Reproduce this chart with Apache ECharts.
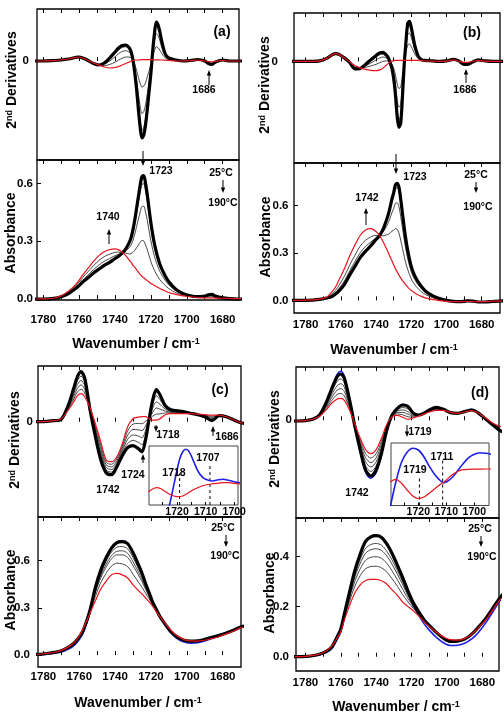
<!DOCTYPE html>
<html>
<head>
<meta charset="utf-8">
<title>FTIR 2nd derivative and absorbance spectra</title>
<script src="https://cdn.jsdelivr.net/npm/echarts@6.0.0/dist/echarts.min.js"></script>
<style>
  html, body { margin: 0; padding: 0; background: #fff; }
  #chart { width: 504px; height: 718px; }
</style>
</head>
<body>
<div id="chart"></div>
<script>
// ---------------- data ----------------
// panel (a)
const wnA = [1786,1780,1774,1770,1766,1762,1760,1758,1755,1752,1749,1746,1743,1740,1738,1736,1734,1732,1731,1730,1729,1728,1727,1726,1725,1724,1723,1722,1721,1720,1719,1718,1717,1716,1715,1714,1712,1710,1706,1702,1698,1694,1690,1688,1686,1684,1680,1676,1672,1668]
const derivA_25 = [0,0,0.5,1,2, 3.5,4,3,0.5,-2.5, -4,-2,3,9,13, 15.5,16,13,9,1, -12,-28,-48,-66,-77, -74,-64,-48,-30,-12, 10,28,39,36,29, 20,7,3,1,0, 0.5,1.5,0,-2.5,-3.5, -1,1,0,0,0]
const derivA_mid1 = [0,0,0.5,1,2, 3.5,4,3,0.5,-2.5, -4,-2.4,2,7.5,11.2, 13.6,14.2,11.6,8.1,1, -10.7,-25.1,-43.1,-59.3,-69.2, -66.5,-57.5,-43.1,-26.9,-10.7, 9.1,25.3,35.2,32.5,26.2, 18.1,6.4,2.8,0.9,0, 0.5,1.5,0,-2.3,-3.3, -0.9,1,0,0,0]
const derivA_mid2 = [0,0,0.5,1,2, 3.5,4,3,0.5,-2.3, -4,-3.2,-0.1,4.2,7.3, 9.5,10.3,8.7,6.2,0.8, -8,-19,-32.8,-45.2,-52.7, -50.7,-43.8,-32.7,-20.3,-7.9, 7.3,19.7,27.3,25.2,20.3, 14.1,5.1,2.2,0.7,0, 0.4,1.3,0,-1.9,-2.7, -0.8,0.8,0,0,0]
const derivA_mid3 = [0,0,0.5,1,2, 3.5,4,3,0.5,-2.2, -4,-4.6,-3.5,-1.1,0.9, 2.8,4,3.9,3.2,0.7, -3.6,-9.2,-16.2,-22.3,-26.1, -25.1,-21.6,-15.9,-9.7,-3.4, 4.3,10.6,14.4,13.3,10.8, 7.7,3,1.4,0.4,0, 0.4,1.2,0,-1.2,-1.9, -0.5,0.7,0,0,0]
const derivA_190 = [0,0,0.5,1,2, 3.5,4,3,0.5,-2, -4,-6,-7,-6.5,-5.5, -4,-2.5,-1,0,0.5, 1,1,1,1.2,1.3, 1.3,1.3,1.3,1.3,1.3, 1.3,1.2,1.2,1.1,1, 1,0.8,0.5,0,0, 0.3,1,0,-0.5,-1, -0.3,0.5,0,0,0]
const absA_25 = [0,0,0.003,0.012,0.028, 0.055,0.07,0.088,0.11,0.135, 0.155,0.175,0.19,0.21,0.222, 0.238,0.26,0.295,0.32,0.36, 0.41,0.47,0.53,0.59,0.635, 0.64,0.6,0.54,0.465,0.395, 0.335,0.285,0.245,0.21,0.18, 0.158,0.12,0.09,0.05,0.028, 0.017,0.012,0.015,0.022,0.024, 0.015,0.006,0.002,0,0]
const absA_mid1 = [0,0,0.003,0.012,0.029, 0.057,0.072,0.091,0.114,0.14, 0.161,0.181,0.195,0.214,0.225, 0.238,0.257,0.287,0.31,0.345, 0.39,0.445,0.499,0.553,0.594, 0.598,0.56,0.504,0.435,0.37, 0.314,0.268,0.231,0.198,0.17, 0.149,0.114,0.086,0.048,0.027, 0.017,0.012,0.014,0.021,0.023, 0.014,0.006,0.002,0,0]
const absA_mid2 = [0,0.001,0.003,0.014,0.032, 0.061,0.078,0.099,0.125,0.153, 0.176,0.196,0.21,0.225,0.232, 0.239,0.25,0.267,0.281,0.305, 0.337,0.375,0.413,0.451,0.48, 0.481,0.451,0.407,0.352,0.301, 0.257,0.221,0.191,0.165,0.143, 0.126,0.097,0.073,0.042,0.024, 0.016,0.011,0.012,0.017,0.019, 0.012,0.005,0.002,0.001,0.001]
const absA_mid3 = [0,0.001,0.004,0.015,0.036, 0.068,0.088,0.112,0.142,0.173, 0.2,0.22,0.233,0.242,0.243, 0.241,0.238,0.234,0.237,0.242, 0.253,0.266,0.28,0.294,0.304, 0.301,0.281,0.255,0.224,0.194, 0.169,0.147,0.13,0.114,0.1, 0.089,0.07,0.054,0.033,0.02, 0.014,0.009,0.009,0.012,0.012, 0.009,0.005,0.003,0.001,0.001]
const absA_190 = [0,0.001,0.004,0.017,0.04, 0.075,0.098,0.125,0.16,0.195, 0.225,0.245,0.257,0.26,0.255, 0.243,0.225,0.2,0.19,0.175, 0.165,0.152,0.14,0.128,0.118, 0.11,0.102,0.095,0.088,0.081, 0.075,0.07,0.065,0.06,0.055, 0.05,0.042,0.034,0.024,0.016, 0.012,0.008,0.006,0.006,0.006, 0.005,0.004,0.003,0.002,0.002]

// panel (b)
const wnB = [1788,1782,1776,1772,1768, 1765,1763,1761,1758,1755, 1752,1749,1746,1743,1740, 1738,1736,1734,1733,1732, 1731,1730,1729,1728,1727, 1726,1725,1724,1723,1722, 1721,1720,1719,1718,1716, 1714,1712,1708,1704,1700, 1696,1693,1690,1688,1685, 1682,1678,1674,1670,1666]
const derivB_25 = [0,0,0,0.5,3, 6.5,7.7,7,3.5,-1, -7.5,-7,-3,1.5,6, 8.5,9,6,3.5,-1, -7,-17,-33,-55,-66, -62,-35,-3,20,38, 40,34,25,16,5, 1.5,1,0.5,0,0.5, 2,0.5,-3,-3,-0.5, 1.5,0.5,0,0,0]
const derivB_mid1 = [0,0,0,0.5,3, 6.5,7.7,7,3.5,-0.9, -7.1,-6.9,-3.6,0.2,4.2, 6.5,7.1,4.9,2.8,-0.9, -6.1,-14.9,-28.9,-48.3,-58, -54.4,-30.7,-2.5,17.7,33.6, 35.3,30,22.1,14.2,4.5, 1.4,0.9,0.5,0,0.5, 1.9,0.4,-2.8,-2.8,-0.4, 1.4,0.5,0,0,0]
const derivB_mid2 = [0,0,0,0.5,3, 6.5,7.7,7,3.5,-0.9, -6.5,-6.9,-4.5,-1.7,1.4, 3.4,4.4,3.2,1.9,-0.9, -4.8,-11.7,-22.8,-38.2,-45.9, -43.1,-24.2,-1.8,14.3,26.9, 28.3,24.1,17.8,11.5,3.8, 1.3,0.9,0.4,0,0.4, 1.9,0.4,-2.4,-2.4,-0.4, 1.4,0.4,0,0,0]
const derivB_mid3 = [0,0,0,0.5,3, 6.5,7.7,7,3.5,-0.7, -5.5,-6.7,-5.9,-4.6,-2.9, -1.4,0,0.5,0.3,-0.7, -2.8,-6.7,-13.3,-22.5,-27.1, -25.5,-14.1,-0.7,9,16.5, 17.4,14.9,11.1,7.3,2.7, 1.1,0.7,0.4,0,0.4, 1.7,0.2,-1.8,-1.8,-0.2, 1.2,0.4,0,0,0]
const derivB_190 = [0,0,0,0.5,3, 6.5,7.7,7,3.5,-0.5, -4,-6.5,-8,-9,-9.3, -8.5,-6.5,-3.5,-2,-0.5, 0.3,0.8,1,1,1, 1,1,1,1,1, 1,1,1,1,1, 0.8,0.5,0.3,0,0.3, 1.5,0,-1,-1,0, 1,0.3,0,0,0]
const absB_25 = [0,0,0.002,0.006,0.015, 0.025,0.04,0.06,0.1,0.16, 0.215,0.27,0.31,0.345,0.385, 0.41,0.45,0.51,0.545,0.59, 0.64,0.68,0.73,0.74,0.715, 0.64,0.55,0.46,0.38,0.315, 0.26,0.215,0.18,0.155,0.115, 0.085,0.06,0.03,0.012,0, -0.006,-0.008,-0.006,-0.003,-0.005, -0.01,-0.01,-0.007,-0.004,-0.002]
const absB_mid1 = [0,0,0.002,0.006,0.015, 0.027,0.042,0.064,0.105,0.166, 0.222,0.277,0.317,0.35,0.388, 0.41,0.446,0.501,0.533,0.574, 0.621,0.657,0.704,0.712,0.687, 0.615,0.529,0.443,0.366,0.303, 0.251,0.207,0.174,0.15,0.111, 0.082,0.058,0.029,0.011,0, -0.006,-0.008,-0.006,-0.003,-0.005, -0.01,-0.01,-0.007,-0.004,-0.002]
const absB_mid2 = [0,0,0.002,0.006,0.016, 0.032,0.05,0.075,0.122,0.186, 0.245,0.301,0.34,0.369,0.396, 0.41,0.432,0.469,0.491,0.521, 0.554,0.58,0.613,0.617,0.593, 0.53,0.457,0.383,0.318,0.264, 0.219,0.182,0.153,0.131,0.097, 0.072,0.05,0.025,0.009,-0.001, -0.006,-0.008,-0.006,-0.004,-0.005, -0.01,-0.01,-0.007,-0.004,-0.002]
const absB_mid3 = [0,0,0.003,0.007,0.018, 0.041,0.063,0.096,0.152,0.222, 0.285,0.343,0.38,0.401,0.411, 0.41,0.408,0.414,0.418,0.426, 0.437,0.443,0.454,0.449,0.426, 0.381,0.329,0.278,0.232,0.195, 0.163,0.136,0.115,0.099,0.073, 0.053,0.037,0.018,0.005,-0.003, -0.007,-0.008,-0.007,-0.005,-0.006, -0.009,-0.009,-0.006,-0.004,-0.002]
const absB_190 = [0,0,0.003,0.008,0.02, 0.055,0.085,0.13,0.2,0.28, 0.35,0.41,0.445,0.453,0.435, 0.41,0.37,0.325,0.3,0.275, 0.25,0.225,0.2,0.18,0.16, 0.142,0.125,0.11,0.096,0.084, 0.073,0.063,0.055,0.047,0.034, 0.024,0.016,0.006,-0.002,-0.006, -0.008,-0.008,-0.007,-0.007,-0.007, -0.008,-0.008,-0.006,-0.004,-0.002]

// panel (c)
const wnC = [1786,1782,1778,1774,1770, 1766,1763,1761,1759,1757, 1754,1751,1748,1745,1742, 1739,1736,1733,1730,1727, 1725,1723,1721,1719,1717, 1715,1712,1709,1706,1702, 1698,1694,1690,1686,1682, 1678,1674,1670,1666]
const derivC_25 = [0,0,0.3,1,2.5, 17,34,45,50,44, 12,-15,-38,-51,-53, -45,-34,-26,-24,-27, -30,-18,3,22,32, 27,16,12,11,10, 8.5,7,5,1,6, 5,2,-1,-2]
const derivC_mid1 = [0,0,0.3,1,2.6, 16,31.2,41.2,45.6,40.2, 12.4,-12.4,-34.4,-48.4,-50.4, -43,-31.6,-21.8,-18.6,-20.7, -23,-13.4,3,17.9,25.9, 22.2,14.2,11.2,10.4,9.6, 8.4,7.1,5.4,2.1,6.1, 5,2,-1,-2]
const derivC_mid2 = [0,0,0.3,1,2.7, 15,28.4,37.4,41.2,36.4, 12.8,-9.8,-30.8,-45.8,-47.8, -41,-29.2,-17.6,-13.2,-14.4, -16,-8.8,3,13.8,19.8, 17.4,12.4,10.4,9.8,9.2, 8.3,7.2,5.8,3.2,6.2, 5,2,-1,-2]
const derivC_mid3 = [0,0,0.3,1,2.8, 14,25.6,33.6,36.8,32.6, 13.2,-7.2,-27.2,-43.2,-45.2, -39,-26.8,-13.4,-7.8,-8.1, -9,-4.2,3,9.7,13.7, 12.6,10.6,9.6,9.2,8.8, 8.2,7.3,6.2,4.3,6.3, 5,2,-1,-2]
const derivC_mid4 = [0,0,0.3,1,2.9, 13,22.8,29.8,32.4,28.8, 13.6,-4.6,-23.6,-40.6,-42.6, -37,-24.4,-9.2,-2.4,-1.8, -2,0.4,3,5.6,7.6, 7.8,8.8,8.8,8.6,8.4, 8.1,7.4,6.6,5.4,6.4, 5,2,-1,-2]
const derivC_190 = [0,0,0.3,1,3, 12,20,26,28,25, 14,-2,-20,-38,-40, -35,-22,-5,3,4.5, 5,5,3,1.5,1.5, 3,7,8,8,8, 8,7.5,7,6.5,6.5, 5,2,-1,-2]
const absC_blue = [0.002,0.003,0.006,0.012,0.02, 0.038,0.06,0.085,0.115,0.165, 0.27,0.415,0.53,0.615,0.68, 0.718,0.726,0.712,0.655,0.58, 0.525,0.46,0.398,0.336,0.29, 0.243,0.19,0.143,0.11,0.085, 0.076,0.078,0.09,0.105,0.12, 0.137,0.156,0.176,0.188]
const absC_25 = [0.003,0.005,0.01,0.017,0.028, 0.05,0.075,0.1,0.13,0.18, 0.286,0.43,0.54,0.62,0.68, 0.715,0.722,0.708,0.65,0.575, 0.52,0.455,0.395,0.335,0.29, 0.245,0.195,0.15,0.12,0.095, 0.088,0.09,0.1,0.113,0.125, 0.14,0.158,0.178,0.19]
const absC_mid1 = [0.003,0.005,0.01,0.017,0.028, 0.05,0.075,0.101,0.132,0.182, 0.283,0.417,0.522,0.598,0.655, 0.686,0.69,0.675,0.62,0.55, 0.5,0.441,0.386,0.331,0.288, 0.245,0.196,0.152,0.121,0.096, 0.088,0.09,0.099,0.112,0.124, 0.139,0.157,0.177,0.189]
const absC_mid2 = [0.003,0.005,0.01,0.017,0.029, 0.051,0.076,0.101,0.133,0.183, 0.28,0.406,0.506,0.578,0.632, 0.66,0.663,0.647,0.593,0.529, 0.483,0.429,0.379,0.328,0.286, 0.245,0.196,0.153,0.122,0.096, 0.089,0.09,0.098,0.111,0.123, 0.139,0.157,0.177,0.189]
const absC_mid3 = [0.003,0.005,0.01,0.017,0.029, 0.051,0.076,0.102,0.134,0.184, 0.278,0.396,0.492,0.56,0.612, 0.637,0.637,0.621,0.569,0.509, 0.467,0.418,0.372,0.325,0.285, 0.245,0.197,0.154,0.123,0.097, 0.089,0.09,0.098,0.11,0.122, 0.138,0.156,0.176,0.188]
const absC_mid4 = [0.003,0.005,0.011,0.018,0.029, 0.051,0.077,0.103,0.137,0.187, 0.272,0.373,0.46,0.52,0.566, 0.584,0.58,0.562,0.514,0.464, 0.431,0.393,0.357,0.318,0.281, 0.245,0.198,0.157,0.125,0.098, 0.089,0.09,0.096,0.108,0.12, 0.137,0.155,0.175,0.187]
const absC_190 = [0.003,0.005,0.011,0.018,0.03, 0.052,0.078,0.105,0.14,0.19, 0.265,0.345,0.42,0.47,0.51, 0.519,0.51,0.49,0.447,0.41, 0.387,0.363,0.338,0.31,0.277, 0.245,0.2,0.16,0.127,0.1, 0.09,0.089,0.094,0.105,0.118, 0.135,0.153,0.173,0.185]
// inset of (c), arbitrary units
const insetC_blueWn = [1724,1722.5,1721,1720,1719,1718,1717,1716,1715,1714,1713,1712,1711,1710,1708,1706,1704,1702,1700,1698]
const insetC_blue = [-15,1.7,21.7,35,46.7,53.3,55.7,54.3,49,42.3,35.7,30.7,27.7,25.7,24,25,25.7,24.7,23.3,22.3]
const insetC_redWn = [1730,1728,1727,1726,1724,1722,1720,1718,1716,1714,1712,1710,1708,1706,1704,1702,1700,1698]
const insetC_red = [13.3,16.7,17.3,16.7,13.3,10,8.3,9,12.3,15.7,18.3,20,21,21.7,22.3,22.3,21.7,21]
const insetC_markWn = [1719.1, 1708.5]
const insetC_markTop = [31.7, 41.7]

// panel (d)
const wnD = [1788,1784,1780,1776,1772, 1768,1765,1762,1760,1758, 1755,1752,1749,1746,1743, 1740,1737,1734,1731,1728, 1725,1722,1719,1716,1713, 1710,1706,1702,1698,1694, 1690,1686,1682,1678,1674, 1670,1666]
const derivD_blue = [-1,-1,-0.5,1,5.5, 19.5,33.5,46,49,44, 21,-6.5,-31,-52,-58, -52,-34.5,-10,5.5,12.5, 16,14.2,7.2,5.3,7, 10.5,13.3,11.2,7.7,7, 9,11,7.2,0.8,-5, -11,-14]
const derivD_25 = [-0.7,-0.7,-0.3,1,5.3, 18.7,32,43.7,46.3,42, 20,-6.3,-29.7,-49.7,-55.7, -49.7,-33,-9.7,5.3,12, 15.3,13.7,7,5.3,7, 10.3,13,11,7.7,7, 8.7,10.3,7,1,-4.7, -10.3,-13]
const derivD_mid1 = [-0.7,-0.7,-0.3,1,5, 17.2,29.1,39.2,41.4,37.6, 18,-5.8,-27.4,-45.6,-51.2, -45.6,-30,-8.6,5,10.6, 12.8,11.2,6.1,5.1,6.9, 9.9,12.4,10.8,7.8,7, 8.6,10.2,7,1.2,-4.4, -9.4,-12]
const derivD_mid2 = [-0.7,-0.7,-0.3,1,4.8, 15.6,26.1,34.7,36.6,33.2, 16,-5.4,-25,-41.5,-46.7, -41.5,-27,-7.4,4.7,9.2, 10.4,8.6,5.1,4.9,6.7, 9.5,11.8,10.6,7.8,7, 8.5,10.1,7,1.4,-4, -8.6,-11]
const derivD_mid3 = [-0.7,-0.7,-0.3,1,4.5, 14.1,23.2,30.3,31.7,28.8, 14,-4.9,-22.7,-37.5,-42.3, -37.5,-24,-6.3,4.3,7.8, 7.9,6.1,4.2,4.7,6.6, 9.1,11.2,10.4,7.9,7, 8.5,9.9,7,1.6,-3.7, -7.7,-10]
const derivD_mid4 = [-0.7,-0.7,-0.3,1,4.3, 12.5,20.2,25.8,26.9,24.4, 12,-4.5,-20.3,-33.4,-37.8, -33.4,-21,-5.1,4,6.4, 5.5,3.5,3.2,4.5,6.4, 8.7,10.6,10.2,7.9,7, 8.4,9.8,7,1.8,-3.3, -6.9,-9]
const derivD_190 = [-0.7,-0.7,-0.3,1,4, 11,17.3,21.3,22,20, 10,-4,-18,-29.3,-33.3, -29.3,-18,-4,3.7,5, 3,1,2.3,4.3,6.3, 8.3,10,10,8,7, 8.3,9.7,7,2,-3, -6,-8]
const absD_blue = [0,0,0,0.003,0.008, 0.018,0.033,0.07,0.1,0.16, 0.25,0.34,0.408,0.46,0.48, 0.486,0.478,0.45,0.41,0.36, 0.308,0.252,0.204,0.166,0.132, 0.106,0.077,0.056,0.045,0.046, 0.054,0.071,0.099,0.136,0.18, 0.224,0.258]
const absD_25 = [0,0,0.001,0.004,0.01, 0.022,0.04,0.08,0.11,0.17, 0.26,0.345,0.41,0.46,0.478, 0.483,0.476,0.45,0.412,0.365, 0.316,0.262,0.215,0.18,0.148, 0.125,0.097,0.074,0.061,0.062, 0.07,0.09,0.12,0.153,0.195, 0.235,0.27]
const absD_mid1 = [0,0,0.001,0.004,0.01, 0.022,0.041,0.079,0.108,0.166, 0.25,0.329,0.388,0.432,0.448, 0.452,0.445,0.421,0.386,0.343, 0.298,0.251,0.209,0.177,0.147, 0.124,0.097,0.075,0.062,0.063, 0.07,0.09,0.12,0.152,0.194, 0.234,0.269]
const absD_mid2 = [0,0,0.001,0.004,0.01, 0.023,0.041,0.079,0.107,0.163, 0.244,0.318,0.373,0.413,0.427, 0.431,0.424,0.402,0.369,0.329, 0.287,0.243,0.205,0.175,0.146, 0.124,0.097,0.076,0.063,0.063, 0.071,0.09,0.119,0.152,0.193, 0.233,0.268]
const absD_mid3 = [0,0,0.001,0.005,0.01, 0.023,0.041,0.078,0.105,0.158, 0.234,0.302,0.351,0.385,0.397, 0.399,0.393,0.373,0.342,0.307, 0.269,0.232,0.2,0.172,0.144, 0.123,0.098,0.076,0.064,0.064, 0.071,0.09,0.119,0.151,0.192, 0.231,0.266]
const absD_mid4 = [0,0,0.001,0.005,0.011, 0.023,0.042,0.077,0.103,0.153, 0.222,0.282,0.324,0.351,0.36, 0.361,0.355,0.338,0.311,0.281, 0.247,0.219,0.193,0.168,0.142, 0.122,0.098,0.078,0.066,0.065, 0.071,0.09,0.119,0.15,0.19, 0.23,0.264]
const absD_190 = [0,0,0.001,0.005,0.011, 0.024,0.043,0.075,0.1,0.145, 0.205,0.255,0.287,0.304,0.309, 0.309,0.303,0.29,0.267,0.245, 0.218,0.2,0.183,0.163,0.14, 0.12,0.098,0.079,0.068,0.066, 0.072,0.09,0.118,0.148,0.188, 0.228,0.262]
// inset of (d), arbitrary units
const insetD_wn = [1730,1728,1726,1724,1722,1720,1718,1716,1714,1712,1711,1710,1708,1706,1704,1702,1700,1698,1696,1694]
const insetD_blue = [-1.2,23.8,43.2,53.2,57.2,55.5,48.8,38.8,30.5,24.5,22.8,23.5,27.8,34.5,41.8,47.8,51.2,52.8,52.2,51.2]
const insetD_red = [23.8,26.2,22.2,15.5,9.5,7,8.5,12.5,17,21.5,23,25.5,30.5,34,35.8,36.2,36.3,36.4,36.5,36.5]
const insetD_markWn = [1719.6, 1711.3]
const insetD_markTop = [27.2, 45.5]

// axis ticks and labels
const wnLabels = [1780, 1760, 1740, 1720, 1700, 1680]
const wnTicks = [1780, 1770, 1760, 1750, 1740, 1730, 1720, 1710, 1700, 1690, 1680]
const insetLabels = [1720, 1710, 1700]
const insetTicks = [1725, 1720, 1715, 1710, 1705, 1700]
const absLabels03 = [0, 0.3, 0.6]
const absLabels02 = [0, 0.2, 0.4]

// ---------------- chart ----------------
const FONT = '"Liberation Sans", Arial, Helvetica, sans-serif'
const grid = [], xAxis = [], yAxis = [], series = [], graphic = []

const STYLE = {
  blue: { color: '#1e1ee6', width: 1.6, z: 2 },
  mid: { color: '#1a1a1a', width: 0.8, z: 3 },
  thick: { color: '#000', width: 3.2, z: 4 },
  red: { color: '#e8141c', width: 1.2, z: 5 },
}

const tickStyle = (vals, len) => ({
  show: true, inside: true, length: len, customValues: vals,
  lineStyle: { color: '#000', width: 1 },
})
const labelStyle = (vals, margin, size, fmt) => ({
  show: true, customValues: vals, margin, color: '#000',
  fontFamily: FONT, fontWeight: 'bold', fontSize: size,
  formatter: fmt,
})

function addPlot(o) {
  const gi = grid.length
  const z = o.z || 0
  grid.push({
    left: o.box[0], top: o.box[1], width: o.box[2], height: o.box[3],
    show: true, borderColor: o.border || '#000', borderWidth: o.borderWidth || 1.3,
    backgroundColor: o.bg || 'transparent', z, outerBoundsMode: 'none', containLabel: false,
  })
  const xi = xAxis.length
  xAxis.push({
    gridIndex: gi, type: 'value', inverse: true, min: o.xr[0], max: o.xr[1], z,
    axisLine: { show: false }, splitLine: { show: false },
    axisTick: tickStyle(o.xTicks || wnTicks, o.tickLen || 4),
    axisLabel: o.xLabels ? labelStyle(o.xLabels, o.xMargin, o.xFont || 11.5, (v) => String(v)) : { show: false },
  })
  if (!o.inset) {
    xAxis.push({
      gridIndex: gi, type: 'value', inverse: true, min: o.xr[0], max: o.xr[1], position: 'top',
      axisLine: { show: false }, splitLine: { show: false },
      axisTick: tickStyle(wnTicks, 4), axisLabel: { show: false },
    })
  }
  const yi = yAxis.length
  yAxis.push({
    gridIndex: gi, type: 'value', min: o.yr[0], max: o.yr[1], z,
    show: !o.inset,
    axisLine: { show: false }, splitLine: { show: false },
    axisTick: o.inset ? { show: false } : tickStyle(o.yVals, 4),
    axisLabel: o.inset ? { show: false } : labelStyle(o.yVals, o.yMargin, 11.5,
      (v) => (o.yDec ? Number(v).toFixed(o.yDec) : String(Math.round(v)))),
  })
  return { xi, yi }
}

function addLines(ax, xs, curves, zBase) {
  curves.forEach(([ys, kind]) => {
    const st = STYLE[kind]
    series.push({
      type: 'line', xAxisIndex: ax.xi, yAxisIndex: ax.yi,
      data: xs.map((x, i) => [x, ys[i]]),
      showSymbol: false, symbol: 'none', smooth: 0.3, silent: true, clip: true,
      z: (zBase || 0) + st.z,
      lineStyle: { color: st.color, width: st.width },
    })
  })
}

// dashed guide lines inside the insets
function addMarks(ax, wns, tops, zBase) {
  wns.forEach((w, i) => series.push({
    type: 'line', xAxisIndex: ax.xi, yAxisIndex: ax.yi,
    data: [[w, 0], [w, tops[i]]], showSymbol: false, symbol: 'none', silent: true,
    z: zBase, lineStyle: { color: '#000', width: 1, type: [3, 3] },
  }))
}

// panel (a)
const aDer = addPlot({ box: [37, 9, 202, 151], xr: [1670.9, 1783.5], yr: [-99, 52], yVals: [0], yMargin: 8 })
addLines(aDer, wnA, [[derivA_mid3, 'mid'], [derivA_mid2, 'mid'], [derivA_mid1, 'mid'], [derivA_25, 'thick'], [derivA_190, 'red']])
const aAbs = addPlot({ box: [37, 160, 202, 140], xr: [1670.9, 1783.5], yr: [-0.005, 0.721], yVals: absLabels03, yDec: 1, yMargin: 4, xLabels: wnLabels, xMargin: 14 })
addLines(aAbs, wnA, [[absA_mid3, 'mid'], [absA_mid2, 'mid'], [absA_mid1, 'mid'], [absA_25, 'thick'], [absA_190, 'red']])

// panel (b)
const bDer = addPlot({ box: [294, 13, 206, 150], xr: [1669.6, 1786.6], yr: [-101.6, 48.4], yVals: [0], yMargin: 16 })
addLines(bDer, wnB, [[derivB_mid3, 'mid'], [derivB_mid2, 'mid'], [derivB_mid1, 'mid'], [derivB_25, 'thick'], [derivB_190, 'red']])
const bAbs = addPlot({ box: [294, 163, 206, 150], xr: [1669.6, 1786.6], yr: [-0.0796, 0.868], yVals: absLabels03, yDec: 1, yMargin: 5.5, xLabels: wnLabels, xMargin: 6 })
addLines(bAbs, wnB, [[absB_mid3, 'mid'], [absB_mid2, 'mid'], [absB_mid1, 'mid'], [absB_25, 'thick'], [absB_190, 'red']])

// panel (c)
const cDer = addPlot({ box: [38, 366, 203, 151], xr: [1669.8, 1783], yr: [-95.3, 55.7], yVals: [0], yMargin: 5 })
addLines(cDer, wnC, [[derivC_mid4, 'mid'], [derivC_mid3, 'mid'], [derivC_mid2, 'mid'], [derivC_mid1, 'mid'], [derivC_25, 'thick'], [derivC_190, 'red']])
const cAbs = addPlot({ box: [38, 517, 203, 150], xr: [1669.8, 1783], yr: [-0.076, 0.878], yVals: absLabels03, yDec: 1, yMargin: 8, xLabels: wnLabels, xMargin: 4 })
addLines(cAbs, wnC, [[absC_blue, 'blue'], [absC_mid4, 'mid'], [absC_mid3, 'mid'], [absC_mid2, 'mid'], [absC_mid1, 'mid'], [absC_25, 'thick'], [absC_190, 'red']])
const cIn = addPlot({ box: [149, 446, 89, 59], xr: [1698.7, 1729.8], yr: [0, 59], inset: true, z: 8, bg: '#fff', border: '#444', borderWidth: 1,
  xLabels: insetLabels, xTicks: insetTicks, xMargin: 1.5, xFont: 10.5, tickLen: 3 })
addLines(cIn, insetC_blueWn, [[insetC_blue, 'blue']], 10)
addLines(cIn, insetC_redWn, [[insetC_red, 'red']], 10)
addMarks(cIn, insetC_markWn, insetC_markTop, 11)

// panel (d)
const dDer = addPlot({ box: [296, 367, 203, 151], xr: [1670.6, 1785.3], yr: [-97.7, 53.3], yVals: [0], yMargin: 4 })
addLines(dDer, wnD, [[derivD_blue, 'blue'], [derivD_mid4, 'mid'], [derivD_mid3, 'mid'], [derivD_mid2, 'mid'], [derivD_mid1, 'mid'], [derivD_25, 'thick'], [derivD_190, 'red']])
const dAbs = addPlot({ box: [296, 518, 203, 153], xr: [1670.6, 1785.3], yr: [-0.057, 0.5536], yVals: absLabels02, yDec: 1, yMargin: 7, xLabels: wnLabels, xMargin: 5.5 })
addLines(dAbs, wnD, [[absD_blue, 'blue'], [absD_mid4, 'mid'], [absD_mid3, 'mid'], [absD_mid2, 'mid'], [absD_mid1, 'mid'], [absD_25, 'thick'], [absD_190, 'red']])
const dIn = addPlot({ box: [391, 443, 98, 62.5], xr: [1694.75, 1729.75], yr: [0, 62.5], inset: true, z: 8, bg: '#fff', border: '#444', borderWidth: 1,
  xLabels: insetLabels, xTicks: insetTicks, xMargin: 1, xFont: 10.5, tickLen: 3 })
addLines(dIn, insetD_wn, [[insetD_blue, 'blue'], [insetD_red, 'red']], 10)
addMarks(dIn, insetD_markWn, insetD_markTop, 11)

// ---------------- annotations ----------------
function text(x, y, str, size, rot) {
  graphic.push({
    type: 'text', x, y, rotation: rot || 0, z: 100, silent: true,
    style: {
      text: str, fill: '#000', fontFamily: FONT, fontWeight: 'bold', fontSize: size,
      align: 'center', verticalAlign: 'middle', textAlign: 'center', textVerticalAlign: 'middle',
      rich: {
        sup: { fontFamily: FONT, fontWeight: 'bold', fontSize: Math.round(size * 0.62), verticalAlign: 'top', fill: '#000' },
      },
    },
  })
}
function arrow(x, y0, y1) {
  const d = y1 > y0 ? 1 : -1
  graphic.push({ type: 'line', z: 100, silent: true, shape: { x1: x, y1: y0, x2: x, y2: y1 - d * 3 }, style: { stroke: '#000', lineWidth: 1 } })
  graphic.push({ type: 'polygon', z: 100, silent: true, shape: { points: [[x - 2.2, y1 - d * 5.5], [x + 2.2, y1 - d * 5.5], [x, y1]] }, style: { fill: '#000' } })
}

const DER_TITLE = '2{sup|nd} Derivatives'
const X_TITLE = 'Wavenumber / cm{sup|-1}'
const UP = Math.PI / 2

// axis titles
text(12.5, 80, DER_TITLE, 14, UP); text(11, 233, 'Absorbance', 14, UP); text(136, 344, X_TITLE, 14)
text(265.5, 85, DER_TITLE, 14, UP); text(266, 237, 'Absorbance', 14, UP); text(394, 350, X_TITLE, 14)
text(15.5, 440, DER_TITLE, 14, UP); text(11, 590, 'Absorbance', 14, UP); text(138, 703, X_TITLE, 14)
text(275, 439, DER_TITLE, 14, UP); text(270, 593, 'Absorbance', 14, UP); text(396, 707, X_TITLE, 14)

// panel letters
text(222, 32, '(a)', 14); text(472, 33, '(b)', 14); text(220, 390, '(c)', 14); text(480, 393, '(d)', 14)

// band labels
const notes = [
  [204, 90, '1686'], [161, 171, '1723'], [108, 217, '1740'],
  [465, 90, '1686'], [415, 177, '1723'], [367, 198, '1742'],
  [108, 490, '1742'], [133, 475, '1724'], [168, 435, '1718'], [227, 437, '1686'],
  [174, 473, '1718'], [208, 458, '1707'],
  [357, 493, '1742'], [420, 432, '1719'], [415, 470, '1719'], [442, 457, '1711'],
]
notes.forEach(([x, y, s]) => text(x, y, s, 10.5))

// temperature markers: text x, 25°C y, 190°C y, arrow x, arrow from, arrow to
const temps = [[221, 173, 203, 223, 180, 193], [476, 175, 207, 476, 182, 193], [223, 528, 556, 226, 535, 547], [480, 529, 557, 481, 536, 547]]
temps.forEach(([x, y0, y1, ax, a0, a1]) => {
  text(x, y0, '25°C', 10.5); text(x + 2, y1, '190°C', 10.5); arrow(ax, a0, a1)
})

// band arrows
arrow(209, 85, 70); arrow(143, 151, 166); arrow(109, 244, 229)
arrow(466, 83, 69); arrow(396, 154, 174); arrow(366, 225, 208)
arrow(143, 463, 454); arrow(156, 425, 432); arrow(213, 436, 426)
arrow(407, 425, 437)

const chart = echarts.init(document.getElementById('chart'), null, { renderer: 'canvas' })
chart.setOption({
  animation: false,
  backgroundColor: '#fff',
  grid, xAxis, yAxis, series,
  graphic: { elements: graphic },
})
</script>
</body>
</html>
